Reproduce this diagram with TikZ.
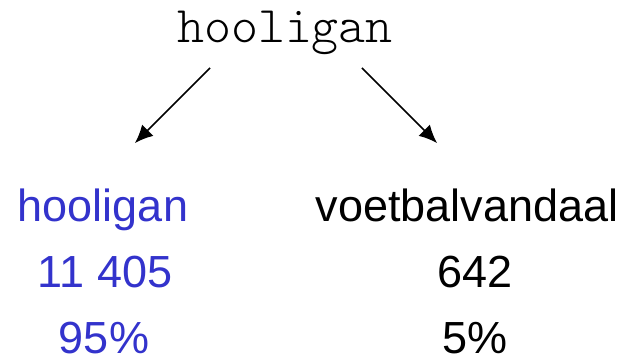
\documentclass[tikz,border=0pt]{standalone}
\usepackage{fontspec}
\setmainfont{Liberation Sans}
\newfontfamily\lightmono{Latin Modern Mono Light}
\usetikzlibrary{arrows.meta}
\definecolor{termblue}{RGB}{51,51,204}

\begin{document}
\begin{tikzpicture}[x=1pt, y=-1pt, line width=1.5pt]

\tikzstyle{every node}=[inner sep=0pt, anchor=base, font=\fontsize{45}{54}\selectfont]
\tikzstyle{word}=[font=\lightmono\fontsize{51.4}{60}\selectfont]
\tikzstyle{split}=[-{Latex[length=18pt,width=16pt]}]

\useasboundingbox (0,0) rectangle (630,363);

\node[word] (src) at (285,43) {hooligan};

% left column: the loanword
\node[termblue] (w1) at (103,222) {hooligan};
\node[termblue] (n1) at (105,288) {11 405};
\node[termblue] (p1) at (104,354) {95\%};

% right column: the native word
\node (w2) at (467,222) {voetbalvandaal};
\node (n2) at (475,288) {642};
\node (p2) at (475,354) {5\%};

\coordinate (s1) at (210,68);
\coordinate (s2) at (362,68);
\coordinate (t1) at (135,143);
\coordinate (t2) at (437,143);

\draw[split] (s1) -- (t1);
\draw[split] (s2) -- (t2);

\end{tikzpicture}
\end{document}
